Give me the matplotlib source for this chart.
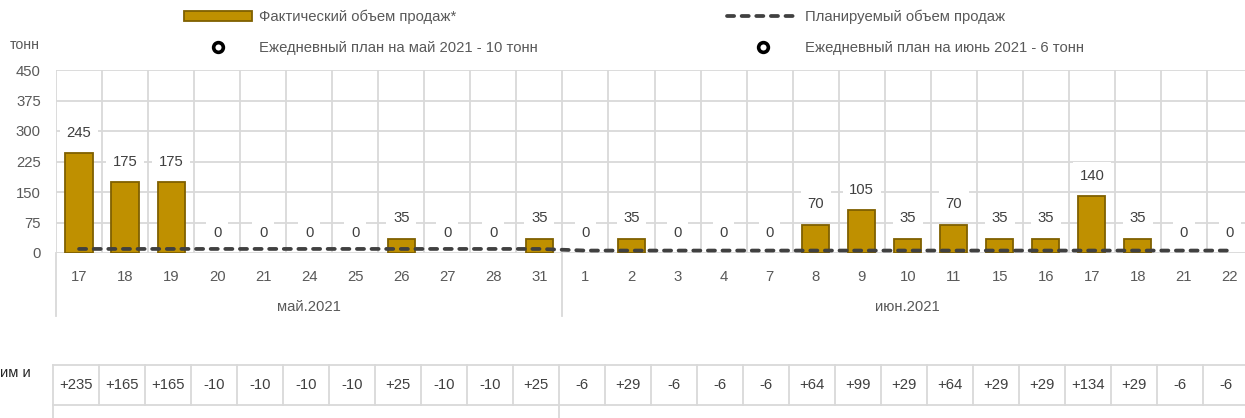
import matplotlib
matplotlib.use("Agg")
import matplotlib.pyplot as plt
from matplotlib.patches import Patch
from matplotlib.lines import Line2D
import matplotlib.transforms as mtrans

plt.rcParams['font.family'] = ['Liberation Sans', 'DejaVu Sans']

# ---------------- data ----------------
days = ["17", "18", "19", "20", "21", "24", "25", "26", "27", "28", "31",
        "1", "2", "3", "4", "7", "8", "9", "10", "11", "15", "16", "17", "18", "21", "22"]
months = ["май.2021", "июн.2021"]
month_counts = [11, 15]
actual = [245, 175, 175, 0, 0, 0, 0, 35, 0, 0, 35,
          0, 35, 0, 0, 0, 70, 105, 35, 70, 35, 35, 140, 35, 0, 0]
plan = [10] * 11 + [6] * 15
deviation = ["+235", "+165", "+165", "-10", "-10", "-10", "-10", "+25", "-10", "-10", "+25",
             "-6", "+29", "-6", "-6", "-6", "+64", "+99", "+29", "+64", "+29", "+29", "+134", "+29", "-6", "-6"]
yticks = [0, 75, 150, 225, 300, 375, 450]
legend_labels = ["Фактический объем продаж*", "Планируемый объем продаж",
                 "Ежедневный план на май 2021 - 10 тонн", "Ежедневный план на июнь 2021 - 6 тонн"]

# ---------------- style ----------------
W, H = 1245, 418
FS = 10.7
BAR = '#BF9000'
BAR_EDGE = '#7F6000'
GRID = '#D9D9D9'
TXT = '#595959'
DTXT = '#404040'
LINE = '#404040'
LW_PLAN = 2.7
DASH = (0, (1.9, 2.0))

fig = plt.figure(figsize=(W / 100, H / 100), dpi=100)

def fx(px):
    return px / W

def fy(py):
    return 1 - py / H

# main axes
x0, x1, ytop, ybot = 56, 1253, 70, 253
ax = fig.add_axes([fx(x0), fy(ybot), fx(x1 - x0), (ybot - ytop) / H])
n = len(days)
xs = list(range(n))
ax.set_xlim(-0.5, n - 0.5)
ax.set_ylim(0, 450)
for s in ax.spines.values():
    s.set_visible(False)

# grid
for yv in yticks:
    ax.axhline(yv, color=GRID, lw=1.3, zorder=0)
for b in range(n + 1):
    ax.axvline(b - 0.5, color=GRID, lw=1.3, zorder=0)

# month separators extending below axis
trans = mtrans.blended_transform_factory(ax.transData, ax.transAxes)
ext = -(316 - ybot) / (ybot - ytop)
bounds = [-0.5]
c = -0.5
for mc in month_counts:
    c += mc
    bounds.append(c)
for b in bounds:
    ax.plot([b, b], [ext, 0], color=GRID, lw=1.3, transform=trans, clip_on=False)
# month labels
start = -0.5
for m, mc in zip(months, month_counts):
    ax.text(start + mc / 2, -(307 - ybot) / (ybot - ytop), m, transform=trans,
            ha='center', va='center', fontsize=FS, color=TXT)
    start += mc

# bars (no outline for empty bars)
ax.bar(xs, actual, width=0.59, color=BAR, edgecolor=BAR_EDGE,
       linewidth=[1.3 if v > 0 else 0 for v in actual], zorder=2)
# plan line
ax.plot(xs, plan, color=LINE, lw=LW_PLAN, linestyle=DASH,
        dash_capstyle='round', zorder=3)

# data labels
for xi, v in zip(xs, actual):
    ax.annotate(str(v), (xi, v), xytext=(0, 14.6), textcoords='offset points',
                ha='center', va='center', fontsize=FS, color=DTXT, zorder=4,
                bbox=dict(boxstyle='square,pad=0.45', fc='white', ec='none'))

# ticks
ax.set_yticks(yticks)
ax.set_yticklabels([str(v) for v in yticks], fontsize=FS, color=TXT)
ax.set_xticks(xs)
ax.set_xticklabels(days, fontsize=FS, color=TXT)
ax.tick_params(axis='both', length=0)
ax.tick_params(axis='y', pad=11)
ax.tick_params(axis='x', pad=12.5)

# unit label
fig.text(fx(40), fy(45), "тонн", ha='right', va='center', fontsize=FS - 0.5, color=TXT)

# legends
h_bar = Patch(facecolor=BAR, edgecolor=BAR_EDGE, linewidth=1.3)
h_line = Line2D([], [], color=LINE, lw=LW_PLAN, linestyle=DASH, dash_capstyle='round')
h_mk = Line2D([], [], linestyle='none', marker='o', markersize=7, markerfacecolor='white',
              markeredgecolor='black', markeredgewidth=2.6)
entries = [
    (h_bar, legend_labels[0], 184, 17, 68),
    (h_line, legend_labels[1], 727, 17, 71),
    (h_mk, legend_labels[2], 184, 48, 68),
    (h_mk, legend_labels[3], 727, 48, 71),
]
for h, lab, lx, ly, hl in entries:
    fig.legend([h], [lab], loc='center left', bbox_to_anchor=(fx(lx), fy(ly)),
               frameon=False, borderpad=0, borderaxespad=0, fontsize=FS,
               handlelength=hl / (FS * 100 / 72), handletextpad=7 / (FS * 100 / 72),
               labelcolor=TXT)

# bottom table
t_top, t_bot = 365, 405
tax = fig.add_axes([fx(53), fy(t_bot), fx(46 * n), (t_bot - t_top) / H])
tax.set_xlim(-0.5, n - 0.5)
tax.set_ylim(0, 1)
tax.axis('off')
tax.plot([-0.5, n - 0.5], [1, 1], color=GRID, lw=1.3, clip_on=False)
tax.plot([-0.5, n - 0.5], [0, 0], color=GRID, lw=1.3, clip_on=False)
for b in range(n + 1):
    tax.plot([b - 0.5, b - 0.5], [0, 1], color=GRID, lw=1.3, clip_on=False)
for b in bounds:
    tax.plot([b, b], [0, -(H - t_bot + 5) / (t_bot - t_top)], color=GRID, lw=1.3, clip_on=False)
for xi, d in zip(xs, deviation):
    tax.text(xi, 0.5, d, ha='center', va='center', fontsize=FS, color=DTXT)

fig.text(0, fy(373), "им и", ha='left', va='center', fontsize=FS, color='#262626')

fig.savefig("out.png", dpi=100)
